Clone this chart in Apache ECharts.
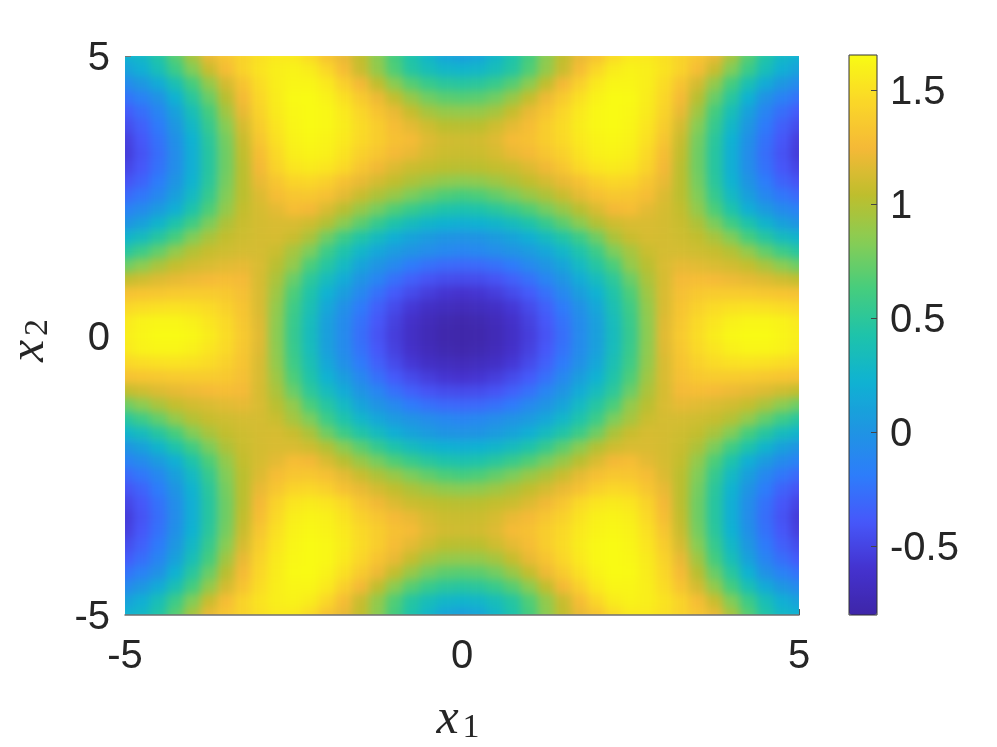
<!DOCTYPE html>
<html>
<head>
<meta charset="utf-8">
<script src="https://cdn.jsdelivr.net/npm/echarts@6/dist/echarts.min.js"></script>
<style>
  html, body { margin: 0; background: #fff; }
  #chart { width: 997px; height: 747px; isolation: isolate; }
  /* the cells sit on their own canvas: soften them and trim to the plot box */
  canvas[data-zr-dom-id="zr_-1"] {
    filter: blur(4.5px);
    clip-path: inset(56px 198px 132px 125px);
  }
</style>
</head>
<body>
<div id="chart"></div>
<script>
// values, upper left quarter (x1 -5..0, x2 5..0, step 0.25)
// the picture is symmetric about both axes, so the other quarters repeat these
const quarterRows = [
  [0.22,0.28,0.44,0.68,0.95,1.20,1.33,1.42,1.50,1.55,1.55,1.47,1.32,1.20,1.05,0.85,0.62,0.42,0.27,0.13,0.08],
  [0.10,0.20,0.36,0.58,0.82,1.08,1.27,1.42,1.52,1.58,1.60,1.57,1.45,1.27,1.08,0.88,0.66,0.46,0.35,0.27,0.25],
  [-0.08,0.02,0.17,0.38,0.62,0.88,1.12,1.32,1.48,1.58,1.62,1.62,1.55,1.40,1.24,1.05,0.85,0.68,0.56,0.49,0.47],
  [-0.25,-0.15,-0.02,0.22,0.48,0.74,1.02,1.26,1.45,1.57,1.64,1.65,1.60,1.50,1.37,1.22,1.06,0.90,0.77,0.70,0.68],
  [-0.38,-0.27,-0.12,0.10,0.36,0.62,0.93,1.20,1.42,1.56,1.63,1.65,1.63,1.55,1.44,1.32,1.20,1.07,0.95,0.89,0.88],
  [-0.46,-0.35,-0.20,0.02,0.28,0.55,0.84,1.13,1.38,1.53,1.62,1.65,1.63,1.57,1.47,1.38,1.27,1.18,1.10,1.03,1.02],
  [-0.53,-0.40,-0.25,-0.03,0.22,0.49,0.78,1.08,1.33,1.50,1.60,1.63,1.61,1.55,1.46,1.38,1.30,1.26,1.16,1.11,1.10],
  [-0.55,-0.42,-0.27,-0.06,0.20,0.47,0.76,1.05,1.28,1.46,1.58,1.61,1.59,1.52,1.41,1.33,1.25,1.20,1.13,1.09,1.08],
  [-0.50,-0.40,-0.25,-0.05,0.20,0.47,0.76,1.03,1.24,1.42,1.53,1.56,1.53,1.46,1.33,1.23,1.15,1.09,1.06,1.03,1.02],
  [-0.42,-0.33,-0.19,0.00,0.23,0.49,0.78,1.03,1.20,1.33,1.43,1.45,1.40,1.30,1.20,1.12,1.05,0.98,0.92,0.87,0.85],
  [-0.30,-0.22,-0.10,0.08,0.30,0.55,0.82,1.03,1.15,1.27,1.33,1.34,1.29,1.18,1.08,0.98,0.90,0.80,0.72,0.65,0.62],
  [-0.15,-0.07,0.05,0.20,0.42,0.65,0.88,1.06,1.13,1.18,1.27,1.24,1.14,1.02,0.90,0.78,0.66,0.56,0.48,0.42,0.40],
  [0.00,0.10,0.25,0.42,0.60,0.80,0.98,1.08,1.12,1.14,1.14,1.10,1.00,0.85,0.70,0.55,0.42,0.33,0.26,0.22,0.20],
  [0.25,0.33,0.47,0.63,0.82,0.96,1.06,1.10,1.12,1.13,1.08,0.97,0.76,0.58,0.44,0.32,0.20,0.11,0.05,0.00,-0.01],
  [0.47,0.58,0.72,0.88,1.00,1.07,1.10,1.12,1.12,1.08,0.95,0.80,0.58,0.42,0.27,0.14,0.05,-0.01,-0.06,-0.10,-0.12],
  [0.75,0.85,0.96,1.06,1.11,1.14,1.17,1.19,1.14,1.02,0.88,0.64,0.46,0.30,0.12,0.00,-0.09,-0.20,-0.26,-0.30,-0.31],
  [1.05,1.10,1.15,1.19,1.22,1.25,1.27,1.25,1.13,0.97,0.74,0.50,0.33,0.17,0.00,-0.12,-0.26,-0.35,-0.42,-0.46,-0.47],
  [1.30,1.32,1.34,1.36,1.37,1.37,1.35,1.29,1.14,0.92,0.65,0.43,0.22,0.07,-0.10,-0.26,-0.38,-0.47,-0.54,-0.59,-0.61],
  [1.45,1.48,1.50,1.51,1.50,1.47,1.41,1.32,1.14,0.88,0.59,0.38,0.14,-0.03,-0.20,-0.35,-0.47,-0.57,-0.65,-0.69,-0.71],
  [1.55,1.60,1.62,1.62,1.59,1.53,1.46,1.34,1.16,0.86,0.56,0.34,0.09,-0.07,-0.25,-0.40,-0.52,-0.63,-0.71,-0.76,-0.78],
  [1.58,1.62,1.65,1.65,1.63,1.57,1.48,1.36,1.17,0.85,0.55,0.33,0.08,-0.08,-0.27,-0.42,-0.54,-0.65,-0.73,-0.78,-0.80]
];
const axisTicks = [-5, 0, 5];
const colorbarTicks = [-0.5, 0, 0.5, 1, 1.5];
const colorbarMin = -0.803;
const colorbarMax = 1.654;
const colorbarColors = [
  "#3e26a8", "#4432cf", "#4658fa", "#2d7dfa", "#1e96e1", "#0fb2d2", "#1ec3aa",
  "#46cd7d", "#87cd55", "#bebe2d", "#f5b937", "#fad728", "#f9fb14"
];

const textColor = "#262626";
const fontFamily = "Liberation Sans";
const n = 41;
const cats = [];
for (let i = 0; i < n; i++) cats.push(String(i));

const heatData = [];
for (let r = 0; r < n; r++) {
  const row = quarterRows[r <= 20 ? r : 40 - r];
  for (let c = 0; c < n; c++) {
    heatData.push([c, 40 - r, row[c <= 20 ? c : 40 - c]]);
  }
}

const chart = echarts.init(document.getElementById("chart"));

// plot box is x 125..799, y 56..615; the cell grid sticks out half a cell
const cellW = 674 / 40;
const cellH = 559 / 40;

const mathVar = { fontFamily: "Liberation Serif", fontStyle: "italic", fontSize: 50, color: textColor, lineHeight: 50 };
// nudges the digits down a little so they centre on their tick
const tickText = { t: { fontFamily: fontFamily, fontSize: 40, color: textColor, padding: [6, 0, 0, 0] } };

const option = {
  animation: false,
  textStyle: { fontFamily: fontFamily },
  grid: [
    { left: 125 - cellW / 2, top: 56 - cellH / 2, width: 674 + cellW, height: 559 + cellH, outerBoundsMode: "none" },
    { left: 125, top: 56, width: 674, height: 559, outerBoundsMode: "none" },
    { left: 849, top: 55, width: 28, height: 560, outerBoundsMode: "none", show: true, borderColor: "#333", borderWidth: 1, backgroundColor: "transparent", z: 10 }
  ],
  xAxis: [
    { type: "category", gridIndex: 0, data: cats, show: false },
    {
      type: "value", gridIndex: 1, min: -5, max: 5, interval: 5,
      name: "{v|x}{s|1}", nameLocation: "middle", nameGap: 80,
      nameTextStyle: {
        rich: {
          v: mathVar,
          s: { fontFamily: "Liberation Serif", fontSize: 34, color: textColor, lineHeight: 50, verticalAlign: "bottom", padding: [16, 8, 0, 4] }
        }
      },
      splitLine: { show: false },
      axisLine: { show: true, onZero: false, lineStyle: { color: "#707070", width: 1.5 } },
      axisTick: { show: true, inside: true, length: 6, lineStyle: { color: "#555" }, customValues: [5] },
      axisLabel: { customValues: axisTicks, fontSize: 40, color: textColor, margin: 22 }
    },
    { type: "value", gridIndex: 2, min: 0, max: 1, show: false }
  ],
  yAxis: [
    { type: "category", gridIndex: 0, data: cats, show: false },
    {
      type: "value", gridIndex: 1, min: -5, max: 5, interval: 5,
      name: "{v|x}{s|2}", nameLocation: "middle", nameGap: 70, nameRotate: 90,
      nameTextStyle: {
        rich: {
          v: mathVar,
          s: { fontFamily: "Liberation Serif", fontSize: 34, color: textColor, lineHeight: 50, verticalAlign: "bottom", padding: [16, 10, 0, 4] }
        }
      },
      splitLine: { show: false },
      axisLine: { show: false, onZero: false },
      axisTick: { show: true, inside: true, length: 6, lineStyle: { color: "#777" }, customValues: [5] },
      axisLabel: { customValues: axisTicks, formatter: "{t|{value}}", rich: tickText, margin: 15 }
    },
    {
      type: "value", gridIndex: 2, position: "right", min: colorbarMin, max: colorbarMax, z: 10,
      splitLine: { show: false },
      axisLine: { show: false, onZero: false },
      axisTick: { show: true, inside: true, length: 6, lineStyle: { color: "#444" }, customValues: colorbarTicks },
      axisLabel: { customValues: colorbarTicks, formatter: "{t|{value}}", rich: tickText, margin: 13 }
    }
  ],
  visualMap: {
    type: "continuous",
    seriesIndex: 0,
    min: colorbarMin,
    max: colorbarMax,
    calculable: false,
    left: 849,
    top: 55,
    padding: 0,
    z: 1,
    itemWidth: 28,
    itemHeight: 560,
    inRange: { color: colorbarColors }
  },
  series: [
    {
      type: "heatmap",
      xAxisIndex: 0,
      yAxisIndex: 0,
      zlevel: -1,
      silent: true,
      progressive: 0,
      data: heatData
    }
  ]
};

chart.setOption(option);
window.addEventListener("resize", () => {
  chart && chart.resize();
});
</script>
</body>
</html>
